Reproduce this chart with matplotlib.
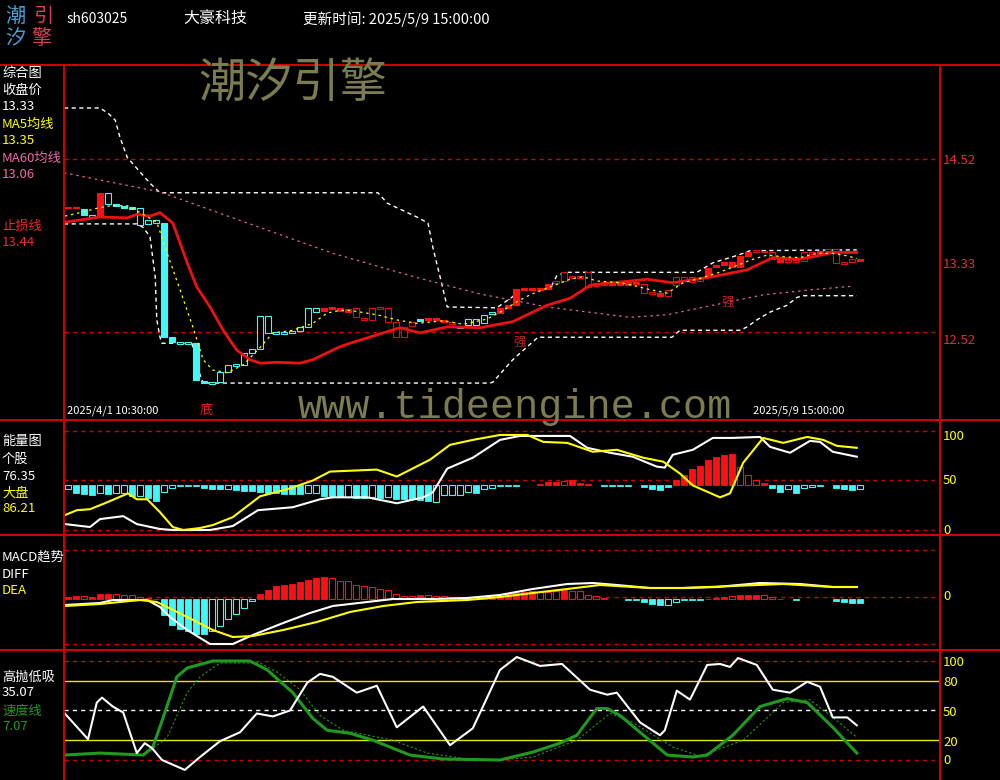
import numpy as np
import matplotlib
matplotlib.use("Agg")
import matplotlib.pyplot as plt
from matplotlib.lines import Line2D

plt.rcParams["font.family"] = ["Noto Sans CJK SC", "DejaVu Sans"]

W, H = 1000, 780

# ---------------- 数据 ----------------
# K线实体 (100根60分钟K线, 2025/4/1 10:30 ~ 2025/5/9 15:00)
body_hi = [13.96, 13.96, 13.94, 13.87, 14.13, 14.13, 14.00, 13.98, 13.96, 13.95,
           13.81, 13.81, 13.78, 12.46, 12.40, 12.40, 12.39, 11.95, 11.94, 12.06,
           12.14, 12.15, 12.28, 12.32, 12.70, 12.70, 12.52, 12.52, 12.53, 12.58,
           12.80, 12.80, 12.80, 12.81, 12.80, 12.79, 12.80, 12.68, 12.80, 12.81,
           12.80, 12.64, 12.58, 12.64, 12.67, 12.68, 12.68, 12.66, 12.64, 12.59,
           12.67, 12.67, 12.72, 12.75, 12.80, 12.83, 13.02, 13.03, 13.03, 13.03,
           13.07, 13.11, 13.21, 13.17, 13.17, 13.21, 13.09, 13.10, 13.10, 13.10,
           13.10, 13.10, 13.07, 12.98, 12.97, 13.01, 13.16, 13.16, 13.16, 13.13,
           13.26, 13.29, 13.33, 13.33, 13.40, 13.44, 13.47, 13.46, 13.44, 13.36,
           13.35, 13.35, 13.44, 13.44, 13.46, 13.48, 13.48, 13.33, 13.36, 13.36]
body_lo = [13.95, 13.95, 13.87, 13.85, 13.85, 14.00, 13.98, 13.95, 13.94, 13.76,
           13.77, 13.78, 12.46, 12.40, 12.38, 12.38, 11.97, 11.93, 11.92, 11.94,
           12.06, 12.13, 12.14, 12.28, 12.32, 12.51, 12.50, 12.50, 12.51, 12.53,
           12.58, 12.75, 12.76, 12.79, 12.76, 12.75, 12.69, 12.66, 12.66, 12.79,
           12.64, 12.46, 12.46, 12.59, 12.65, 12.66, 12.66, 12.64, 12.61, 12.57,
           12.60, 12.60, 12.62, 12.73, 12.74, 12.80, 12.83, 13.01, 13.01, 13.01,
           13.02, 13.09, 13.11, 13.14, 13.14, 13.04, 13.05, 13.06, 13.06, 13.06,
           13.06, 13.07, 12.97, 12.96, 12.94, 12.94, 13.06, 13.12, 13.10, 13.11,
           13.16, 13.27, 13.29, 13.27, 13.27, 13.40, 13.44, 13.44, 13.37, 13.33,
           13.33, 13.33, 13.34, 13.42, 13.43, 13.46, 13.32, 13.31, 13.33, 13.34]
# R=红实体 r=红空心 C=青实体 c=青空心
kind = ("RRCcRcCCCc" "ccCCccCCcc" "cccccccccc" "ccRRRRrrrr" "rrrrCRRRrC"
        "ccccRRRRRR" "RrrrrrrrRR" "RRrrRrrrrr" "RRRRRRrrrR" "rrrrRrrrrR")

# 均线 / 通道 (x 为K线序号)
ma5_x = [-0.4, 1.5, 3.6, 5.25, 7.4, 9, 11.1, 12.4, 14, 15.6,
         16.9, 18.1, 19.9, 21.9, 24, 25.6, 28.1, 30.6, 32.4, 34,
         35.25, 38.6, 41.1, 43.6, 46.9, 49.4, 52.4, 54.4, 56.1, 57.75,
         60.25, 62.75, 64.4, 66.1, 69, 70.6, 72.75, 74.9, 76.9, 79,
         81.1, 83.1, 85.25, 87.4, 89.4, 91.5, 93.6, 95.6, 97.4, 98.6]
ma5_y = [13.86, 13.90, 13.95, 13.98, 13.98, 13.90, 13.79, 13.43, 13.01, 12.58,
         12.20, 12.08, 12.05, 12.14, 12.34, 12.51, 12.54, 12.62, 12.74, 12.77,
         12.77, 12.72, 12.66, 12.62, 12.65, 12.61, 12.67, 12.77, 12.87, 12.95,
         13.04, 13.13, 13.16, 13.11, 13.09, 13.06, 13.01, 12.97, 13.09, 13.14,
         13.20, 13.27, 13.35, 13.41, 13.39, 13.38, 13.43, 13.43, 13.40, 13.37]
ma60_x = [-0.5, 11.5, 20.6, 33.1, 43.6, 51.5, 59.9, 70.25, 74.9, 80.6, 86.9, 93.1, 98.1]
ma60_y = [14.36, 14.14, 13.84, 13.43, 13.15, 12.96, 12.81, 12.69, 12.72, 12.83, 12.95, 13.01, 13.05]
stop_x = [-0.4, 4, 7.4, 8.6, 10.25, 11.5, 13.1, 14.9, 16.1, 17.75,
          19.4, 21.1, 22.75, 24, 26.1, 29, 30.6, 32.4, 34, 35.25,
          39.4, 41.5, 44, 47.4, 51.5, 55.6, 59.9, 62.75, 65.25, 68.1,
          72.4, 75.6, 80.6, 84.9, 88.1, 91.1, 93.1, 95.6, 98.6]
stop_y = [13.79, 13.85, 13.84, 13.88, 13.86, 13.90, 13.78, 13.32, 13.04, 12.81,
          12.54, 12.31, 12.20, 12.16, 12.17, 12.16, 12.20, 12.28, 12.35, 12.39,
          12.51, 12.57, 12.51, 12.58, 12.57, 12.64, 12.83, 12.91, 13.06, 13.09,
          13.13, 13.09, 13.16, 13.24, 13.38, 13.36, 13.39, 13.44, 13.44]
up_x = [-0.5, 4, 5, 5.9, 6.5, 7.4, 9, 10.25, 11.5, 38.75,
        39.9, 43.6, 45, 45.6, 46.5, 47.4, 53.6, 55.6, 56.5, 60.25,
        61.1, 62.1, 78.6, 80.6, 83.1, 84.4, 85.25, 98.6]
up_y = [15.11, 15.11, 15.05, 14.97, 14.77, 14.54, 14.37, 14.24, 14.13, 14.13,
        14.01, 13.85, 13.78, 13.50, 13.16, 12.81, 12.80, 12.93, 13.01, 13.02,
        13.17, 13.21, 13.21, 13.32, 13.39, 13.43, 13.46, 13.47]
dn_x = [-0.5, 8.6, 9.4, 10.25, 10.9, 11.1, 11.5, 11.75, 14.6, 15.5,
        16.1, 16.9, 52.75, 53.1, 55.6, 57.4, 58.75, 75.5, 76.5, 84,
        84.9, 86.1, 87.75, 89.9, 91.1, 91.9, 98.6]
dn_y = [13.77, 13.77, 13.73, 13.62, 13.16, 12.66, 12.46, 12.39, 12.39, 12.39,
        12.13, 11.93, 11.93, 11.94, 12.20, 12.35, 12.46, 12.46, 12.54, 12.54,
        12.58, 12.66, 12.75, 12.83, 12.92, 12.94, 12.94]

# 能量图
energy_bar = [-4, -8, -9, -10, -8, -9, -8, -8, -11, -11,
              -13, -16, -7, -3, -1, -1, -1, -3, -4, -4,
              -4, -5, -6, -6, -7, -8, -8, -9, -9, -9,
              -8, -8, -11, -11, -12, -12, -13, -13, -12, -13,
              -12, -14, -14, -14, -15, -16, -17, -10, -10, -10,
              -7, -8, -4, -3, -1, -1, -1, 0, 0, 1,
              3, 3, 4, 5, 2, 1, 0, -1, -1, -1,
              -1, 0, -2, -4, -5, -2, 5, 10, 16, 19,
              25, 28, 30, 31, 18, 10, 5, 2, -3, -7,
              -4, -8, -3, -2, -1, 0, -3, -4, -5, -4]
energy_hollow = [0, 4, 6, 7, 9, 12, 13, 20, 30, 31, 35, 38, 40, 46, 47, 48, 49, 50,
                 52, 53, 62, 84, 85, 86, 90, 92, 93, 99]
stock_x = [-0.4, 2.75, 4, 6.9, 8.6, 11.5, 13.1, 17.75, 20.6, 23.75,
           28.1, 31.5, 33.1, 37.4, 41.1, 44.4, 45.6, 47.4, 50.6, 54,
           56.5, 59, 62.75, 64.9, 67.75, 70.6, 73.6, 74.6, 75.6, 78.1,
           80.6, 83.1, 86.5, 87.75, 90.25, 92.75, 94, 95.6, 98.6]
stock_v = [6, 3, 11, 14, 6, 1, 0, 0, 4, 20,
           23, 31, 33, 33, 27, 33, 38, 62, 73, 91,
           95, 95, 95, 83, 78, 74, 64, 63, 76, 81,
           93, 93, 94, 84, 78, 90, 89, 79, 74]
market_x = [-0.4, 1.1, 2.75, 4.9, 7.5, 8.6, 9.9, 11.5, 13.1, 14.4,
            16.5, 18.1, 20.6, 24, 27.75, 30.6, 32.75, 38.6, 41.1, 45.25,
            47.75, 50.6, 54, 57.4, 59.4, 62.4, 65.6, 68.6, 71.9, 74.4,
            76.5, 78.1, 81.5, 82.75, 84.4, 86.9, 89.4, 92.4, 94.4, 96.1, 98.6]
market_v = [15, 20, 21, 28, 37, 31, 31, 18, 3, 0,
            2, 5, 13, 34, 42, 50, 59, 61, 54, 71,
            86, 91, 96, 96, 89, 88, 79, 81, 73, 69,
            57, 45, 33, 37, 68, 93, 88, 94, 91, 85, 83]

# MACD
macd_bar = [0.02, 0.03, 0.03, 0.02, 0.05, 0.05, 0.05, 0.04, 0.04, 0.02,
            0.01, 0.005, -0.16, -0.26, -0.30, -0.32, -0.35, -0.35, -0.32, -0.27,
            -0.20, -0.15, -0.09, -0.02, 0.05, 0.09, 0.13, 0.14, 0.15, 0.17,
            0.19, 0.21, 0.22, 0.21, 0.18, 0.18, 0.14, 0.13, 0.12, 0.10,
            0.09, 0.05, 0.03, 0.03, 0.04, 0.04, 0.03, 0.03, 0.02, 0.02,
            0.02, 0.02, 0.01, 0.03, 0.03, 0.05, 0.06, 0.07, 0.08, 0.07,
            0.07, 0.08, 0.09, 0.08, 0.08, 0.04, 0.03, 0.01, 0, 0,
            -0.01, -0.01, -0.03, -0.05, -0.06, -0.06, -0.03, -0.01, -0.01, -0.01,
            0.005, 0.01, 0.02, 0.03, 0.04, 0.04, 0.04, 0.04, 0.02, 0.005,
            0, -0.01, 0, 0, 0, 0, -0.02, -0.03, -0.04, -0.04]
macd_hollow = [2, 6, 7, 8, 9, 18, 19, 20, 21, 22, 23, 33, 34, 35, 36, 37, 38, 39, 40,
               41, 42, 43, 45, 46, 47, 48, 49, 51, 59, 60, 61, 63, 64, 65, 66, 75, 76, 83, 87, 88]
diff_x = [-0.4, 4, 5.6, 9.9, 11.5, 12.75, 14.9, 17.75, 20.6, 23.1,
          26.9, 30.25, 33.1, 37.4, 40.6, 45.6, 49.9, 54, 58.1, 62.4,
          65.6, 68.6, 72.75, 76.9, 81.1, 86.5, 91.5, 95.6, 98.6]
diff_v = [-0.08, -0.06, -0.03, -0.03, -0.10, -0.20, -0.33, -0.47, -0.47, -0.38,
          -0.26, -0.16, -0.09, -0.05, -0.02, -0.02, -0.01, 0.02, 0.08, 0.13,
          0.14, 0.12, 0.09, 0.09, 0.10, 0.14, 0.13, 0.10, 0.10]
dea_x = [-0.4, 4, 9, 11.1, 14.9, 18.1, 20.6, 23.1, 26.9, 31.1, 35.25, 39.4,
         43.6, 49.9, 54, 58.1, 62.4, 66.5, 72.75, 76.9, 83.1, 89.4, 95.6, 98.6]
dea_v = [-0.09, -0.07, -0.03, -0.05, -0.20, -0.33, -0.40, -0.39, -0.33, -0.25, -0.15, -0.09,
         -0.05, -0.03, 0.0, 0.04, 0.08, 0.12, 0.09, 0.09, 0.11, 0.13, 0.10, 0.10]

# 高抛低吸
hp_x = [-0.4, 2.5, 3.6, 4.25, 5.6, 6.9, 8.6, 9.6, 10.5, 11.75,
        14.6, 16.5, 19, 21.5, 23.6, 25.6, 27.75, 29.9, 31.5, 33.1,
        36.1, 38.6, 41.1, 44.4, 47.75, 50.6, 54, 56.1, 59, 61.75,
        65.25, 67.4, 68.6, 71.5, 74, 74.6, 76.1, 77.75, 79.9, 81.5,
        82.75, 83.75, 86.1, 88.1, 90.25, 92.4, 94, 95.6, 97.4, 98.6]
hp_v = [47, 21, 58, 63, 54, 48, 7, 17, 12, 0,
        -10, 3, 19, 28, 47, 44, 50, 78, 87, 84,
        68, 75, 33, 54, 15, 32, 91, 104, 95, 97,
        71, 66, 68, 38, 25, 30, 70, 61, 96, 97,
        94, 103, 96, 71, 68, 79, 74, 43, 43, 35]
speed_x = [-0.4, 4, 9.4, 10.6, 11.9, 13.6, 14.9, 18.1, 22.75, 24.9,
           28.1, 30.6, 32.4, 35.25, 38.1, 42.75, 46.9, 54, 58.1, 61.5,
           63.6, 66.1, 67.4, 69, 74.9, 78.1, 79.9, 83.1, 86.5, 89.9,
           92.4, 95.6, 98.6]
speed_v = [5, 7, 5, 13, 43, 84, 93, 100, 100, 91,
           68, 42, 30, 27, 20, 5, 1, 0, 8, 17,
           25, 52, 52, 45, 5, 3, 5, 25, 54, 62,
           58, 33, 7]
sig_x = [9.4, 12.4, 14.9, 16.5, 19, 24, 26.1, 29, 31.5, 34.4,
         40.6, 44.9, 49.9, 54, 58.1, 63.6, 67.75, 70.6, 75.6, 79,
         84.4, 89.4, 92.75, 95.6, 98.6]
sig_v = [4, 23, 68, 84, 98, 98, 89, 71, 45, 30,
         20, 7, 1, 0, 3, 20, 47, 38, 13, 4,
         20, 58, 61, 43, 23]

# ---------------- 颜色 ----------------
RED = "#ff1010"
RED_H = "#e01010"
CYAN = "#40f8f8"
GRID = "#c80000"
YEL = "#ffff00"
PINK = "#e0609c"
GREEN = "#1f9a1f"
OLIVE = "#7c7c50"

fig = plt.figure(figsize=(10, 7.8), dpi=100, facecolor="black")


def panel(top, bottom, ylim):
    ax = fig.add_axes([64 / W, 1 - bottom / H, 876 / W, (bottom - top) / H])
    ax.set_facecolor("black")
    ax.set_xlim(-0.5, 109.0)
    ax.set_ylim(*ylim)
    ax.set_axis_off()
    return ax


def ftext(x, y, s, color, size, ha="left", **kw):
    fig.text(x / W, 1 - y / H, s, color=color, fontsize=size, ha=ha, va="center", **kw)


idx = np.arange(len(body_hi))

# ---------- 综合图 ----------
ax1 = panel(65, 420, (11.503, 15.607))
for v in (14.52, 12.52):
    ax1.axhline(v, color=GRID, lw=1, ls=(0, (3, 3)))
hi = np.array(body_hi)
lo = np.array(body_lo)
ht = np.maximum(hi - lo, 0.02)
for k, col in (("R", RED), ("r", RED_H), ("C", CYAN), ("c", CYAN)):
    m = np.array([c == k for c in kind])
    face = col if k.isupper() else "black"
    ax1.bar(idx[m], ht[m], bottom=lo[m], width=0.72, color=face,
            edgecolor=col, linewidth=0.8, zorder=3)
ax1.plot(up_x, up_y, color="white", lw=1, ls=(0, (3, 2.5)), zorder=2)
ax1.plot(dn_x, dn_y, color="white", lw=1, ls=(0, (3, 2.5)), zorder=2)
ax1.plot(ma60_x, ma60_y, color=PINK, lw=0.9, ls=(0, (2, 3)), zorder=2)
ax1.plot(stop_x, stop_y, color="#ee1111", lw=2.0, zorder=4)
ax1.plot(ma5_x, ma5_y, color=YEL, lw=0.9, ls=(0, (2, 3)), zorder=5)

# ---------- 能量图 ----------
ax2 = panel(420, 535, (-5.05, 111.1))
for v in (100, 50, 0):
    ax2.axhline(v, color=GRID, lw=1, ls=(0, (3, 3)))
e = np.array(energy_bar, dtype=float)
holl = np.isin(idx, energy_hollow)
base = 45.5
for pos, col in ((e > 0, RED), (e < 0, CYAN)):
    f = pos & ~holl
    h = pos & holl
    ax2.bar(idx[f], e[f], bottom=base, width=0.72, color=col, edgecolor=col, lw=0.6, zorder=3)
    ax2.bar(idx[h], e[h], bottom=base, width=0.72, color="black", edgecolor=col, lw=0.8, zorder=3)
ax2.plot(stock_x, stock_v, color="white", lw=1.5, zorder=4)
ax2.plot(market_x, market_v, color=YEL, lw=1.5, zorder=5)

# ---------- MACD ----------
ax3 = panel(535, 650, (-0.53, 0.62))
for v in (0.47, 0.0, -0.47):
    ax3.axhline(v, color=GRID, lw=1, ls=(0, (3, 3)))
mb = np.array(macd_bar)
holl = np.isin(idx, macd_hollow)
mbase = -0.02
for pos, col in ((mb > 0, RED), (mb < 0, CYAN)):
    f = pos & ~holl
    h = pos & holl
    ax3.bar(idx[f], mb[f], bottom=mbase, width=0.72, color=col, edgecolor=col, lw=0.6, zorder=3)
    ax3.bar(idx[h], mb[h], bottom=mbase, width=0.72, color="black", edgecolor=col, lw=0.8, zorder=3)
ax3.plot(diff_x, diff_v, color="white", lw=1.5, zorder=4)
ax3.plot(dea_x, dea_v, color=YEL, lw=1.5, zorder=5)

# ---------- 高抛低吸 ----------
ax4 = panel(650, 780, (-20.2, 111.1))
ax4.axhline(100, color=GRID, lw=1, ls=(0, (3, 3)))
ax4.axhline(0, color=GRID, lw=1, ls=(0, (3, 3)))
ax4.axhline(80, color="#e8e800", lw=1)
ax4.axhline(20, color="#e8e800", lw=1)
ax4.axhline(50, color="white", lw=1, ls=(0, (3, 3)))
ax4.plot(sig_x, sig_v, color=GREEN, lw=0.8, ls=(0, (2, 2)), zorder=3)
ax4.plot(speed_x, speed_v, color=GREEN, lw=2.2, zorder=4)
ax4.plot(hp_x, hp_v, color="white", lw=1.5, zorder=5)

# ---------- 边框 ----------
for yy in (65, 420, 535, 650):
    fig.add_artist(Line2D([0, 1], [1 - yy / H, 1 - yy / H], transform=fig.transFigure,
                          color="#d40000", lw=1.4))
for xx in (64, 940):
    fig.add_artist(Line2D([xx / W, xx / W], [0, 1 - 65 / H], transform=fig.transFigure,
                          color="#d40000", lw=1.4))

# ---------- 文字 ----------
ftext(5, 16, "潮", "#4a9fd6", 14.5)
ftext(33, 16, "引", "#d84050", 14.5)
ftext(5, 39, "汐", "#4a9fd6", 14.5)
ftext(31, 39, "擎", "#d84050", 14.5)
ftext(67, 19, "sh603025", "white", 10)
ftext(183, 18, "大豪科技", "white", 11.5)
ftext(303, 19, "更新时间: 2025/5/9 15:00:00", "white", 10.5)

ftext(198, 84, "潮汐引擎", OLIVE, 34, zorder=10)
ftext(298, 407, "www.tideengine.com", OLIVE, 29, family="Liberation Mono", zorder=10)

left_labels = [
    (73, "综合图", "white"), (90, "收盘价", "white"), (107, "13.33", "white"),
    (124, "MA5均线", YEL), (141, "13.35", YEL), (158, "MA60均线", "#f06aa8"),
    (175, "13.06", "#f06aa8"), (226, "止损线", "#ee2a2a"), (243, "13.44", "#ee2a2a"),
    (442, "能量图", "white"), (459, "个股", "white"), (476, "76.35", "white"),
    (493, "大盘", YEL), (509, "86.21", YEL),
    (557, "MACD趋势", "white"), (574, "DIFF", "white"), (591, "DEA", YEL),
    (677, "高抛低吸", "white"), (693, "35.07", "white"), (711, "速度线", GREEN),
    (727, "7.07", GREEN),
]
for yy, s, c in left_labels:
    ftext(2, yy, s, c, 9.5)

right_labels = [
    (161, "14.52", "#e03030"), (264, "13.33", "#e03030"), (340, "12.52", "#e03030"),
    (437, "100", YEL), (481, "50", YEL), (530, "0", YEL),
    (597, "0", YEL),
    (662, "100", YEL), (683, "80", YEL), (712, "50", YEL), (742, "20", YEL), (760, "0", YEL),
]
for yy, s, c in right_labels:
    ftext(943, yy, s, c, 9.5)

ftext(67, 411, "2025/4/1 10:30:00", "white", 8)
ftext(753, 411, "2025/5/9 15:00:00", "white", 8)
ftext(200, 410, "底", "#e02020", 9.5)
ftext(513, 342, "强", "#c82020", 9)
ftext(721, 302, "强", "#c82020", 9)

fig.savefig("out.png", dpi=100, facecolor="black")
